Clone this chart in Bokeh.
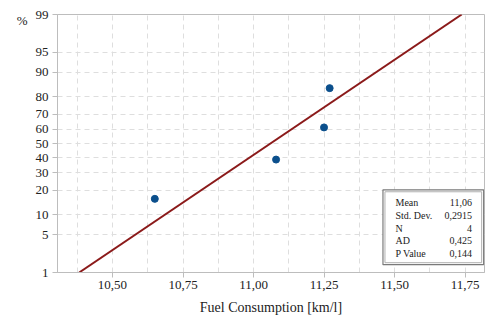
from statistics import NormalDist
from bokeh.plotting import figure
from bokeh.models import (FixedTicker, CustomJSTickFormatter, Range1d,
                          ColumnDataSource, LinearAxis)
from bokeh.core.properties import value
from bokeh.embed import file_html
from bokeh.resources import INLINE

# ---- data ----
fuel = [10.65, 11.08, 11.25, 11.27]          # km/l
percent = [15.9, 38.6, 61.4, 84.1]           # plotting positions (%)
mean = 11.06
std_dev = 0.2915
stat_names = ["Mean", "Std. Dev.", "N", "AD", "P Value"]
stat_values = ["11,06", "0,2915", "4", "0,425", "0,144"]
y_tick_pcts = [1, 5, 10, 20, 30, 40, 50, 60, 70, 80, 90, 95, 99]
x_ticks = [10.50, 10.75, 11.00, 11.25, 11.50, 11.75]
x_grid = [10.375, 10.5, 10.625, 10.75, 10.875, 11.0, 11.125, 11.25,
          11.375, 11.5, 11.625, 11.75]

nd = NormalDist()
def zq(pct):
    return nd.inv_cdf(pct / 100.0)

serif = "Liberation Serif"
grid_col = "#dedede"
axis_col = "#bdbdbd"
txt_col = "#222222"

p = figure(width=488, height=317, output_backend="svg", toolbar_location=None,
           x_range=Range1d(10.305, 11.819), y_range=Range1d(zq(1), zq(99)),
           min_border_left=57, min_border_right=4, min_border_top=14,
           min_border_bottom=41)
p.background_fill_color = "white"
p.border_fill_color = "white"
p.outline_line_color = axis_col

# axes
p.xaxis.ticker = FixedTicker(ticks=x_ticks)
p.xaxis.formatter = CustomJSTickFormatter(code="return tick.toFixed(2).replace('.', ',');")
y_ticks = [zq(v) for v in y_tick_pcts]
p.yaxis.ticker = FixedTicker(ticks=y_ticks)
p.yaxis.formatter = CustomJSTickFormatter(
    args=dict(t=y_ticks, l=[str(v) for v in y_tick_pcts]),
    code="""let b=0, d=1e9; for (let i=0;i<t.length;i++){const e=Math.abs(t[i]-tick); if(e<d){d=e;b=i;}} return l[b];""")
for ax in (p.xaxis, p.yaxis):
    ax.axis_line_color = axis_col
    ax.major_tick_line_color = axis_col
    ax.minor_tick_line_color = None
    ax.major_tick_out = 5
    ax.major_tick_in = 0
    ax.major_label_text_font = serif
    ax.major_label_text_font_size = "13px"
    ax.major_label_text_color = txt_col
p.xaxis.major_label_standoff = 3
p.yaxis.major_label_standoff = 4
p.xaxis.axis_label = "Fuel Consumption [km/l]"
p.xaxis.axis_label_text_font = serif
p.xaxis.axis_label_text_font_size = "14px"
p.xaxis.axis_label_text_font_style = "normal"
p.xaxis.axis_label_text_color = txt_col
p.xaxis.axis_label_standoff = 8

# "%" unit label as an extra, bare axis on the left
pct_axis = LinearAxis(ticker=FixedTicker(ticks=[2.22]),
                      formatter=CustomJSTickFormatter(code="return '%';"),
                      axis_line_color=None, major_tick_line_color=None,
                      minor_tick_line_color=None, major_tick_out=0, major_tick_in=0,
                      major_label_standoff=5, major_label_text_font=serif,
                      major_label_text_font_size="13px",
                      major_label_text_color=txt_col)
p.add_layout(pct_axis, "left")

# grids
p.xgrid.ticker = FixedTicker(ticks=x_grid)
p.ygrid.ticker = FixedTicker(ticks=[zq(v) for v in y_tick_pcts[1:-1]])
for g in (p.xgrid, p.ygrid):
    g.grid_line_color = grid_col
    g.grid_line_dash = "5 4"
    g.grid_line_width = 1

# fitted line
line_z = [zq(1), zq(99)]
line_x = [mean + std_dev * v for v in line_z]
p.line(line_x, line_z, line_color="#8b1a1a", line_width=2)

# data points
src = ColumnDataSource(dict(x=fuel, y=[zq(v) for v in percent]))
p.scatter("x", "y", source=src, size=7, fill_color="#0b4f8c", line_color="#0b4f8c")

# stats box (pixel -> data: 282 px per km/l, 56.3 px per z unit, z=0 at 145 px)
bl, br, bt, bb = 11.459, 11.816, -0.835, -2.185
p.quad(left=[bl], right=[br], top=[bt], bottom=[bb], fill_color="white",
       line_color="#7a7a7a", line_width=1.2)
dx, dy = 2 / 282.0, 2 / 56.3
p.quad(left=[bl + dx], right=[br - dx], top=[bt - dy], bottom=[bb + dy],
       fill_color="white", line_color="#b0b0b0", line_width=1)
row_z = [-1.066, -1.297, -1.528, -1.758, -1.989]
p.text(x=[11.5035] * 5, y=row_z, text=stat_names, text_font=value(serif),
       text_font_size="10px", text_baseline="middle", text_align="left",
       text_color=txt_col)
p.text(x=[11.7745] * 5, y=row_z, text=stat_values, text_font=value(serif),
       text_font_size="10px", text_baseline="middle", text_align="right",
       text_color=txt_col)

open("out.html", "w").write(file_html(p, INLINE))
